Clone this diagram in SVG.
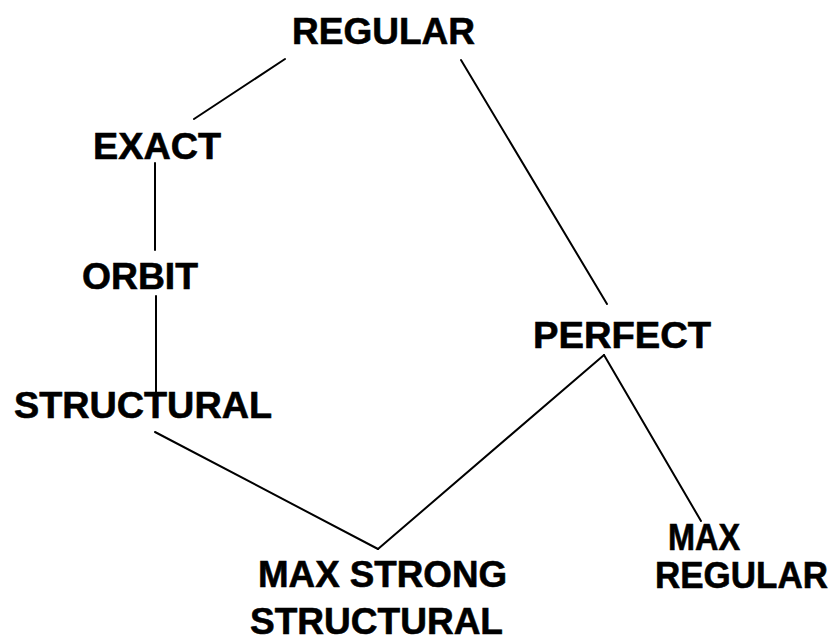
<svg xmlns="http://www.w3.org/2000/svg" width="832" height="638" viewBox="0 0 832 638">
<style>
text{font-family:"Liberation Sans",Arial,sans-serif;font-weight:bold;font-size:37px;fill:#000;stroke:#000;stroke-width:0.6}
line{stroke:#000;stroke-width:2;stroke-linecap:round}
</style>
<rect width="832" height="638" fill="#fff"/>
<g id="connectors">
<line x1="285" y1="59" x2="194" y2="119"/>
<line x1="461" y1="60" x2="607" y2="304"/>
<line x1="155" y1="163" x2="155" y2="250"/>
<line x1="156" y1="296" x2="156" y2="398"/>
<line x1="155" y1="432" x2="378" y2="549"/>
<line x1="378" y1="549" x2="604" y2="355"/>
<line x1="604" y1="355" x2="701" y2="521"/>
</g>
<g id="regular"><text x="292" y="44" textLength="183" lengthAdjust="spacingAndGlyphs">REGULAR</text></g>
<g id="exact"><text x="93" y="159" textLength="128" lengthAdjust="spacingAndGlyphs">EXACT</text></g>
<g id="orbit"><text x="82" y="289" textLength="116" lengthAdjust="spacingAndGlyphs">ORBIT</text></g>
<g id="structural"><text x="14" y="418" textLength="258" lengthAdjust="spacingAndGlyphs">STRUCTURAL</text></g>
<g id="perfect"><text x="533" y="348" textLength="178" lengthAdjust="spacingAndGlyphs">PERFECT</text></g>
<g id="maxstrong"><text x="258" y="587" textLength="249" lengthAdjust="spacingAndGlyphs">MAX STRONG</text><text x="250" y="634" textLength="253" lengthAdjust="spacingAndGlyphs">STRUCTURAL</text></g>
<g id="maxregular"><text x="668" y="550" textLength="72" lengthAdjust="spacingAndGlyphs">MAX</text><text x="655" y="588" textLength="173" lengthAdjust="spacingAndGlyphs">REGULAR</text></g>
</svg>
